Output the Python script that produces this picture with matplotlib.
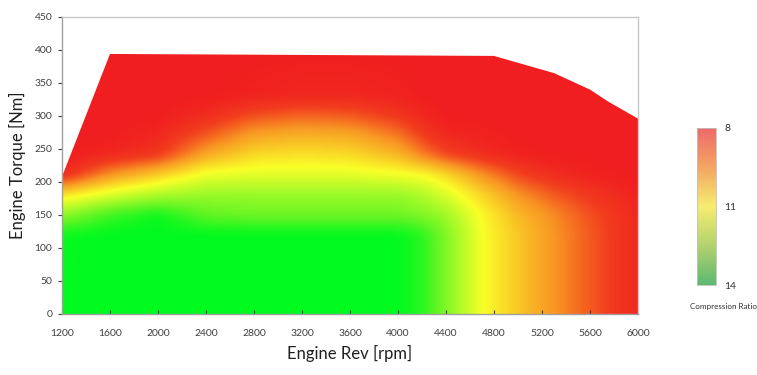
import numpy as np
import matplotlib
matplotlib.use("Agg")
import matplotlib.pyplot as plt
from matplotlib.colors import LinearSegmentedColormap, Normalize
from matplotlib.patches import Polygon
from matplotlib.cm import ScalarMappable

# ---- data ----
rpm = [1200, 1600, 2000, 2400, 2800, 3200, 3600, 4000, 4200, 4400, 4700, 5000, 5300, 5600, 6000]
torque = [0, 120, 150, 180, 210, 240, 270, 300, 330, 400]
cr_0   = [14.0, 14.0, 14.0, 14.0, 14.0, 14.0, 14.0, 14.0, 13.6, 12.6, 11.0, 10.2, 9.5, 8.9, 8.2]
cr_120 = [13.9, 14.0, 14.0, 14.0, 14.0, 14.0, 14.0, 14.0, 13.6, 12.6, 11.0, 10.2, 9.5, 8.9, 8.2]
cr_150 = [12.4, 13.4, 13.9, 13.0, 12.8, 12.8, 12.8, 12.8, 12.6, 12.2, 10.9, 10.0, 9.4, 8.8, 8.2]
cr_180 = [10.6, 11.4, 12.0, 12.3, 12.3, 12.3, 12.3, 12.3, 12.0, 11.4, 10.4, 9.5, 8.9, 8.5, 8.1]
cr_210 = [8.2, 9.5, 10.3, 11.2, 11.3, 11.3, 11.3, 11.1, 11.0, 10.5, 9.5, 8.7, 8.3, 8.1, 8.0]
cr_240 = [8.0, 8.2, 8.5, 9.8, 10.5, 10.6, 10.5, 10.0, 9.3, 8.7, 8.3, 8.1, 8.0, 8.0, 8.0]
cr_270 = [8.0, 8.0, 8.2, 8.9, 9.7, 9.9, 9.8, 9.2, 8.6, 8.2, 8.1, 8.0, 8.0, 8.0, 8.0]
cr_300 = [8.0, 8.0, 8.0, 8.3, 8.8, 9.0, 8.9, 8.5, 8.2, 8.0, 8.0, 8.0, 8.0, 8.0, 8.0]
cr_330 = [8.0, 8.0, 8.0, 8.0, 8.1, 8.2, 8.2, 8.1, 8.0, 8.0, 8.0, 8.0, 8.0, 8.0, 8.0]
cr_400 = [8.0] * 15

full_load_rpm = [1200, 1600, 4800, 5300, 5600, 5750, 6000]
full_load_torque = [208, 394, 391, 365, 340, 322, 296]

x_ticks = [1200, 1600, 2000, 2400, 2800, 3200, 3600, 4000, 4400, 4800, 5200, 5600, 6000]
y_ticks = [0, 50, 100, 150, 200, 250, 300, 350, 400, 450]
cbar_ticks = [8, 11, 14]

# ---- figure ----
plt.rcParams['font.family'] = ['Lato', 'DejaVu Sans']
fig = plt.figure(figsize=(7.57, 3.75), dpi=100)
ax = fig.add_axes([0.0819, 0.1627, 0.7609, 0.792])

plot_cmap = LinearSegmentedColormap.from_list("cr_plot", [
    (0.00, (240/255, 30/255, 32/255)),
    (0.10, (242/255, 60/255, 30/255)),
    (0.25, (248/255, 150/255, 35/255)),
    (0.50, (250/255, 255/255, 40/255)),
    (0.70, (160/255, 250/255, 40/255)),
    (0.85, (90/255, 245/255, 35/255)),
    (1.00, (0/255, 250/255, 30/255)),
])
bar_cmap = LinearSegmentedColormap.from_list("cr_bar", [
    (0.00, "#EE6A6A"),
    (0.25, "#F3A563"),
    (0.50, "#F6EC70"),
    (0.75, "#B3D26F"),
    (1.00, "#5CB870"),
])
norm = Normalize(vmin=8, vmax=14)

# Resample the read grid onto a fine raster (bilinear) for smooth shading
Z = np.array([cr_0, cr_120, cr_150, cr_180, cr_210, cr_240, cr_270, cr_300, cr_330, cr_400])
fx = np.linspace(1200, 6000, 481)
fy = np.linspace(0, 400, 201)
tmp = np.array([np.interp(fy, torque, Z[:, j]) for j in range(Z.shape[1])]).T
F = np.array([np.interp(fx, rpm, tmp[i, :]) for i in range(tmp.shape[0])])

def box_blur(a, kx, ky):
    pad = np.pad(a, ((ky, ky), (kx, kx)), mode='edge')
    k1 = np.ones(2 * kx + 1) / (2 * kx + 1)
    k2 = np.ones(2 * ky + 1) / (2 * ky + 1)
    out = np.apply_along_axis(lambda r: np.convolve(r, k1, mode='valid'), 1, pad)
    out = np.apply_along_axis(lambda c: np.convolve(c, k2, mode='valid'), 0, out)
    return out

F = box_blur(box_blur(F, 6, 4), 6, 4)

im = ax.imshow(F, origin='lower', extent=[1200, 6000, 0, 400], aspect='auto',
               cmap=plot_cmap, norm=norm, interpolation='bilinear')

poly_x = [1200] + full_load_rpm + [6000]
poly_y = [0] + full_load_torque + [0]
clip = Polygon(np.column_stack([poly_x, poly_y]), closed=True, transform=ax.transData,
               facecolor='none', edgecolor='none')
ax.add_patch(clip)
im.set_clip_path(clip)

ax.set_xlim(1200, 6000)
ax.set_ylim(0, 450)
ax.set_xticks(x_ticks)
ax.set_yticks(y_ticks)
ax.tick_params(axis='both', labelsize=7.5, colors='#404040', length=3, width=0.8)
ax.tick_params(axis='x', direction='in', pad=11)
ax.tick_params(axis='y', direction='out', pad=4)
for s in ['left', 'bottom']:
    ax.spines[s].set_color('#A0A0A0')
    ax.spines[s].set_linewidth(1.0)
for s in ['top', 'right']:
    ax.spines[s].set_color('#C8C8C8')
    ax.spines[s].set_linewidth(1.0)

ax.set_xlabel("Engine Rev [rpm]", fontsize=12, color='#202020', labelpad=5)
ax.set_ylabel("Engine Torque [Nm]", fontsize=12, color='#202020', labelpad=6)

# colorbar
cax = fig.add_axes([0.9207, 0.24, 0.0251, 0.4187])
sm = ScalarMappable(norm=norm, cmap=bar_cmap)
cb = fig.colorbar(sm, cax=cax)
cb.ax.invert_yaxis()
cb.set_ticks(cbar_ticks)
cb.ax.tick_params(labelsize=7.5, length=0, colors='#303030', pad=6)
cb.outline.set_edgecolor('#C0C0C0')
cb.outline.set_linewidth(0.6)
fig.text(0.956, 0.182, "Compression Ratio", fontsize=5.8, ha='center', va='center', color='#303030')

fig.savefig("out.png", dpi=100)
